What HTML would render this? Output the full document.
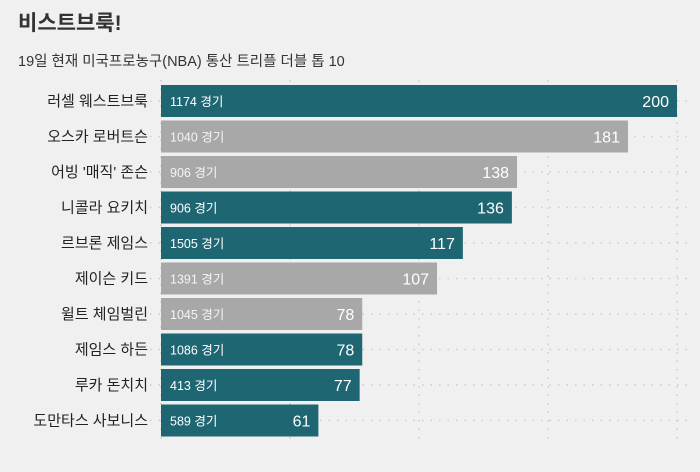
<!DOCTYPE html>
<html><head><meta charset="utf-8"><style>
body{margin:0;background:#f0f0f0;font-family:"Liberation Sans","Noto Sans CJK KR",sans-serif;}
svg text{font-family:"Liberation Sans","Noto Sans CJK KR",sans-serif;}
</style></head><body>
<svg width="700" height="467" viewBox="0 0 700 467">
<rect width="700" height="467" fill="#f0f0f0"/>
<text x="18" y="30" font-size="21" font-weight="bold" fill="#333">비스트브룩!</text>
<text x="18" y="66" font-size="14.5" fill="#333">19일 현재 미국프로농구(NBA) 통산 트리플 더블 톱 10</text>
<g id="grid"></g><g id="bars"></g>
</svg>
<script>
const names=["러셀 웨스트브룩","오스카 로버트슨","어빙 '매직' 존슨","니콜라 요키치","르브론 제임스","제이슨 키드","윌트 체임벌린","제임스 하든","루카 돈치치","도만타스 사보니스"];
const values=[200,181,138,136,117,107,78,78,77,61];
const games=[1174,1040,906,906,1505,1391,1045,1086,413,589];
const active=[1,0,0,1,1,0,0,1,1,1];
const ticks=[0,50,100,150,200];
const NS="http://www.w3.org/2000/svg";
const x=v=>161+v*2.58, y=i=>101+i*35.5;
const grid=document.getElementById('grid'),bars=document.getElementById('bars');
function mk(tag,attrs,parent){const e=document.createElementNS(NS,tag);for(const k in attrs)e.setAttribute(k,attrs[k]);parent.appendChild(e);return e;}
ticks.forEach(t=>{const l=mk('line',{x1:x(t),x2:x(t),y1:80,y2:441,stroke:'#ccc','stroke-width':1.5,'stroke-dasharray':'1.5 7'},grid);

});
names.forEach((n,i)=>{
const h=mk('line',{x1:150,x2:690,y1:y(i),y2:y(i),stroke:'#ccc','stroke-width':1.5,'stroke-dasharray':'1.5 7'},grid);


const r=mk('rect',{x:x(0),y:y(i)-16,width:x(values[i])-x(0),height:32,fill:active[i]?'#1f6673':'#a8a8a8'},bars);


const lb=mk('text',{x:148,y:y(i)+5,'font-size':15,'text-anchor':'end',fill:'#222'},bars);lb.textContent=n;


const g=mk('text',{x:170,y:y(i)+5,'font-size':12.5,fill:active[i]?'#fff':'#f4f4f4'},bars);g.textContent=games[i]+' 경기';


const v=mk('text',{x:x(values[i])-8,y:y(i)+6,'font-size':16,'text-anchor':'end',fill:'#fff'},bars);v.textContent=values[i];


});
</script>
</body></html>
